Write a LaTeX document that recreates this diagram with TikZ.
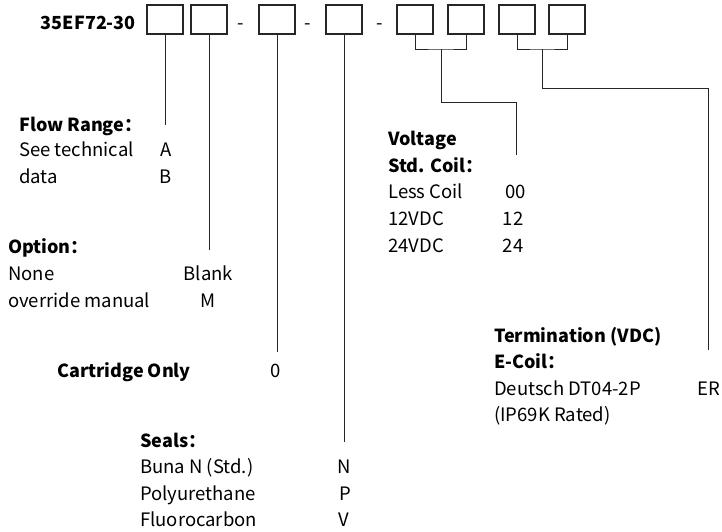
\documentclass[tikz,border=0pt]{standalone}
\usepackage{fontspec}
\setmainfont{Noto Sans CJK SC}
\begin{document}
\begin{tikzpicture}[x=1pt,y=-1pt,
  txt/.style={inner sep=0pt,anchor=base west,font=\fontsize{18.5}{22}\selectfont},
  bold/.style={txt,font=\fontsize{18}{22}\selectfont\bfseries},
  code/.style={inner sep=0pt,anchor=base,font=\fontsize{18.5}{22}\selectfont},
  box/.style={draw=black!85,line width=1.1pt,minimum width=36pt,minimum height=29pt,inner sep=0pt},
  ln/.style={draw=black!85,line width=1pt}]
\useasboundingbox (0,0) rectangle (722,531);
% boxes
\node[box] (b1) at (165,19.5) {};
\node[box] (b2) at (209,19.5) {};
\node[box] (b3) at (277,19.5) {};
\node[box] (b4) at (344,19.5) {};
\node[box] (b5) at (415,19.5) {};
\node[box] (b6) at (466,19.5) {};
\node[box] (b7) at (517,19.5) {};
\node[box] (b8) at (567,19.5) {};
\node[bold,anchor=base east] (title) at (136,29) {35EF72-30};
\node[code] (d1) at (240.5,29) {-};
\node[code] (d2) at (308,29) {-};
\node[code] (d3) at (379.5,29) {-};
% end coordinates
\coordinate (e1) at (165,125);
\coordinate (e2) at (209,250);
\coordinate (e3) at (277,352);
\coordinate (e4) at (344,442);
\coordinate (m56) at (441,49);
\coordinate (e56) at (516,155);
\coordinate (m78) at (542,49);
\coordinate (e78) at (708,350);
% connectors
\draw[ln] (b1.south) -- (e1);
\draw[ln] (b2.south) -- (e2);
\draw[ln] (b3.south) -- (e3);
\draw[ln] (b4.south) -- (e4);
\draw[ln] (b5.south) |- (m56) -| (b6.south);
\draw[ln] (m56) -- (441,102) -| (e56);
\draw[ln] (b7.south) |- (m78) -| (b8.south);
\draw[ln] (m78) -- (542,88) -| (e78);
% Flow range
\node[bold] (fr) at (19,131) {Flow Range：};
\node[txt] (fr1) at (19,156.5) {See technical};
\node[txt] (fr2) at (19,183) {data};
\node[code] (frA) at (166,156.5) {A};
\node[code] (frB) at (166,183) {B};
% Option
\node[bold] (op) at (8,253) {Option：};
\node[txt] (op1) at (8,280) {None};
\node[txt] (op2) at (8,307) {override manual};
\node[code] (opB) at (208.5,280) {Blank};
\node[code] (opM) at (208.5,307) {M};
% Cartridge
\node[bold] (co) at (57,377) {Cartridge Only};
\node[code] (co0) at (276,377) {0};
% Seals
\node[bold] (se) at (140,447) {Seals：};
\node[txt] (se1) at (140,473) {Buna N (Std.)};
\node[txt] (se2) at (140,500) {Polyurethane};
\node[txt] (se3) at (140,526.5) {Fluorocarbon};
\node[code] (seN) at (344,473) {N};
\node[code] (seP) at (345,500) {P};
\node[code] (seV) at (344,526.5) {V};
% Voltage
\node[bold] (vo) at (388,145) {Voltage};
\node[bold] (vo0) at (388,172) {Std. Coil：};
\node[txt] (vo1) at (388,198) {Less Coil};
\node[txt] (vo2) at (388,225) {12VDC};
\node[txt] (vo3) at (388,252) {24VDC};
\node[code] (vo00) at (515.5,198) {00};
\node[code] (vo12) at (513,225) {12};
\node[code] (vo24) at (513,252) {24};
% Termination
\node[bold] (te) at (494,342) {Termination (VDC)};
\node[bold] (te0) at (494,368) {E-Coil：};
\node[txt] (te1) at (494,395) {Deutsch DT04-2P};
\node[txt] (te2) at (494,421) {(IP69K Rated)};
\node[txt] (teER) at (697,395) {ER};
\end{tikzpicture}
\end{document}
